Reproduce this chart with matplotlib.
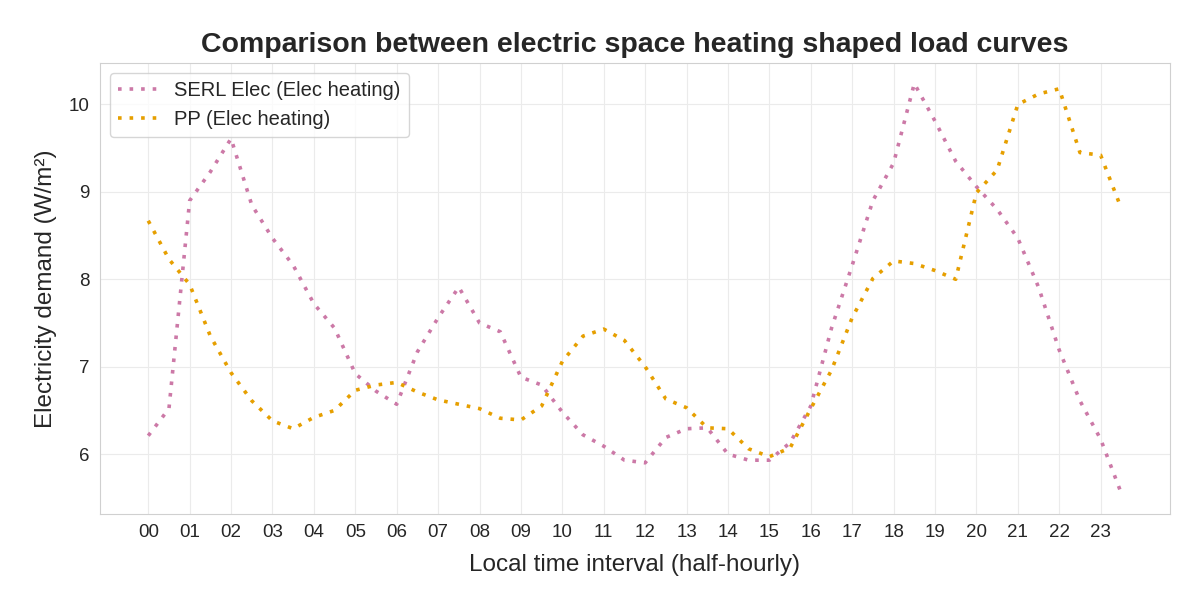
import numpy as np
import matplotlib
matplotlib.use("Agg")
import matplotlib.pyplot as plt
import seaborn as sns

hours = np.arange(48) * 0.5
tick_labels = [f"{h:02d}" for h in range(24)]

serl_elec = [6.21, 6.52, 8.90, 9.23, 9.61, 8.85, 8.47, 8.16, 7.72, 7.44,
             6.92, 6.72, 6.57, 7.17, 7.56, 7.91, 7.50, 7.40, 6.88, 6.79,
             6.48, 6.22, 6.09, 5.93, 5.90, 6.19, 6.29, 6.30, 6.00, 5.93,
             5.93, 6.13, 6.55, 7.44, 8.16, 8.90, 9.33, 10.24, 9.81, 9.35,
             9.06, 8.80, 8.47, 7.91, 7.19, 6.61, 6.17, 5.55]
pp_elec = [8.67, 8.23, 7.94, 7.35, 6.93, 6.61, 6.38, 6.29, 6.42, 6.50,
           6.73, 6.79, 6.82, 6.71, 6.62, 6.57, 6.52, 6.41, 6.39, 6.55,
           7.06, 7.35, 7.43, 7.30, 7.00, 6.63, 6.53, 6.30, 6.29, 6.06,
           5.97, 6.07, 6.52, 6.96, 7.56, 8.01, 8.21, 8.18, 8.10, 8.00,
           8.99, 9.25, 10.00, 10.12, 10.18, 9.45, 9.42, 8.81]

sns.set_style("whitegrid", {"grid.color": "#ebebeb", "axes.edgecolor": "#d0d0d0"})
plt.rcParams['font.family'] = ['Arial', 'Liberation Sans', 'DejaVu Sans']

fig, ax = plt.subplots(figsize=(12, 6.06), dpi=100)
ax.plot(hours, serl_elec, linestyle=(0, (1, 2.2)), color='#CC79A7', linewidth=2.6,
        label='SERL Elec (Elec heating)')
ax.plot(hours, pp_elec, linestyle=(0, (1, 2.2)), color='#E69F00', linewidth=2.6,
        label='PP (Elec heating)')

ax.set_xticks(np.arange(24))
ax.set_xticklabels(tick_labels, fontsize=13.5)
ax.tick_params(axis='y', labelsize=13.5)
ax.set_xlabel('Local time interval (half-hourly)', fontsize=17.5, labelpad=10)
ax.set_ylabel('Electricity demand (W/m²)', fontsize=17.5, labelpad=9)
ax.set_title('Comparison between electric space heating shaped load curves',
             fontsize=20.5, fontweight='bold', pad=8)
ax.legend(loc='upper left', fontsize=14.5)

fig.subplots_adjust(left=0.083, right=0.975, top=0.896, bottom=0.152)
fig.savefig('out.png', dpi=100)
